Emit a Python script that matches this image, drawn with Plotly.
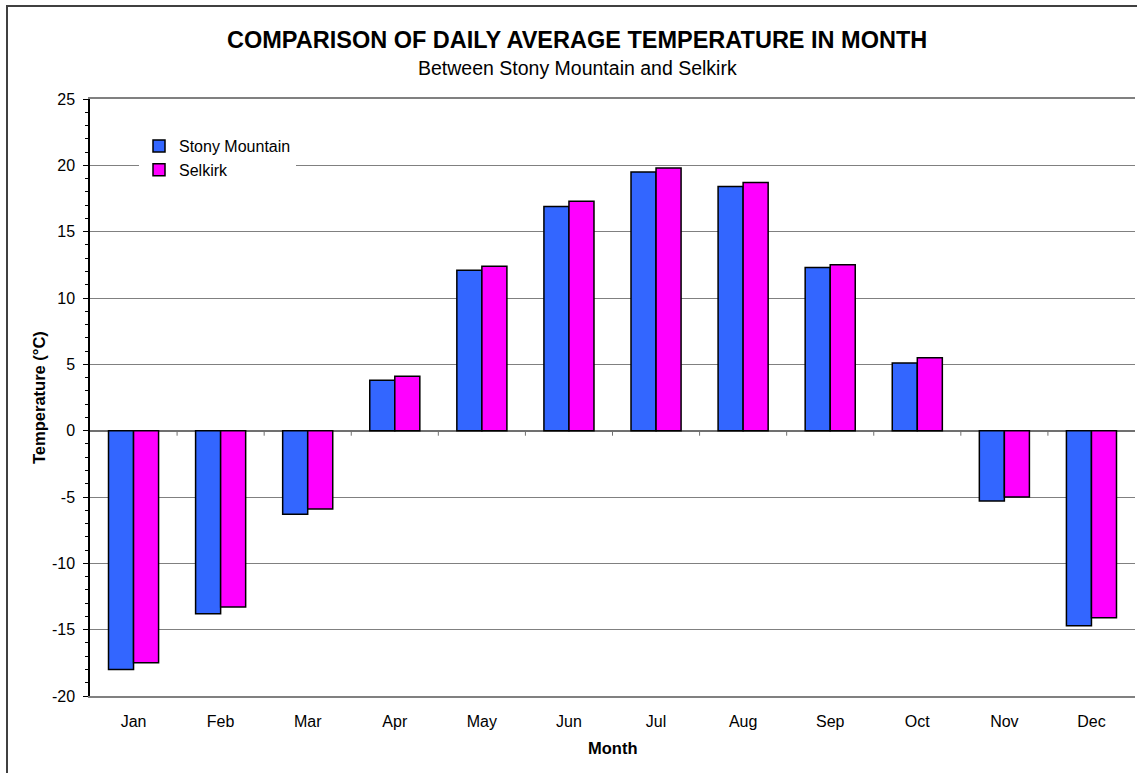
import plotly.graph_objects as go

months = ["Jan", "Feb", "Mar", "Apr", "May", "Jun", "Jul", "Aug", "Sep", "Oct", "Nov", "Dec"]
stony = [-18.0, -13.8, -6.3, 3.8, 12.1, 16.9, 19.5, 18.4, 12.3, 5.1, -5.3, -14.7]
selkirk = [-17.5, -13.3, -5.9, 4.1, 12.4, 17.3, 19.8, 18.7, 12.5, 5.5, -5.0, -14.1]
y_ticks = [-20, -15, -10, -5, 0, 5, 10, 15, 20, 25]

FONT = "Liberation Sans, Arial, sans-serif"
W, H = 1137, 773
L, R, T, B = 90, 2, 99, 77
PW, PH = W - L - R, H - T - B


def px(xp):
    return (xp - L) / PW


def py(yp):
    return (H - B - yp) / PH


fig = go.Figure()
fig.add_trace(go.Bar(name="Stony Mountain", x=months, y=stony,
                     marker=dict(color="#3366FF", line=dict(color="black", width=1.5))))
fig.add_trace(go.Bar(name="Selkirk", x=months, y=selkirk,
                     marker=dict(color="#FF00FF", line=dict(color="black", width=1.5))))

shapes = []
# category tick marks along the zero line
for i in range(len(months) - 1):
    shapes.append(dict(type="line", xref="x", yref="y", x0=i + 0.5, x1=i + 0.5,
                       y0=0, y1=-0.38, line=dict(color="#707070", width=1)))
# outer chart border
shapes.append(dict(type="rect", xref="paper", yref="paper", x0=px(7), x1=px(W + 20),
                   y0=py(H + 20), y1=py(6), line=dict(color="#404040", width=2), layer="below"))

fig.update_layout(
    width=W, height=H,
    margin=dict(l=L, r=R, t=T, b=B),
    paper_bgcolor="white", plot_bgcolor="white",
    font=dict(family=FONT, size=16, color="black"),
    barmode="group", bargap=0.425, bargroupgap=0,
    showlegend=True,
    legend=dict(x=px(139), y=py(129), xanchor="left", yanchor="top",
                bgcolor="white", borderwidth=0, font=dict(size=16, family=FONT),
                itemwidth=30, tracegroupgap=0),
    shapes=shapes,
    annotations=[
        dict(text="<b>COMPARISON OF DAILY AVERAGE TEMPERATURE IN MONTH</b>", xref="paper", yref="paper",
             x=px(577), y=py(40), showarrow=False, font=dict(size=23.5, family=FONT),
             xanchor="center", yanchor="middle"),
        dict(text="Between Stony Mountain and Selkirk", xref="paper", yref="paper",
             x=px(577), y=py(68), showarrow=False, font=dict(size=19.5, family=FONT),
             xanchor="center", yanchor="middle"),
        dict(text="<b>Temperature (°C)</b>", xref="paper", yref="paper", textangle=-90,
             x=px(39), y=py(398), showarrow=False, font=dict(size=16.5, family=FONT),
             xanchor="center", yanchor="middle"),
        dict(text="<b>Month</b>", xref="paper", yref="paper",
             x=px(612.5), y=py(748), showarrow=False, font=dict(size=16.5, family=FONT),
             xanchor="center", yanchor="middle"),
    ],
)

fig.update_xaxes(
    showgrid=False, showline=True, linecolor="#808080", linewidth=2, mirror=True,
    ticks="", ticklabelstandoff=10, tickfont=dict(size=16),
)
fig.update_yaxes(
    range=[-20, 25], tickmode="array", tickvals=y_ticks, ticktext=[str(v) for v in y_ticks],
    showgrid=True, gridcolor="#808080", gridwidth=1,
    zeroline=True, zerolinecolor="#707070", zerolinewidth=1.5,
    showline=True, linecolor="black", linewidth=1.5,
    ticks="outside", ticklen=5, tickcolor="black", tickwidth=1,
    minor=dict(dtick=1, ticks="outside", ticklen=3, tickcolor="black", showgrid=False),
    ticklabelstandoff=5, tickfont=dict(size=16),
)

fig.write_html("out.html", config={"displayModeBar": False},
               post_script="document.body.style.margin='0';document.body.style.overflow='hidden';")
